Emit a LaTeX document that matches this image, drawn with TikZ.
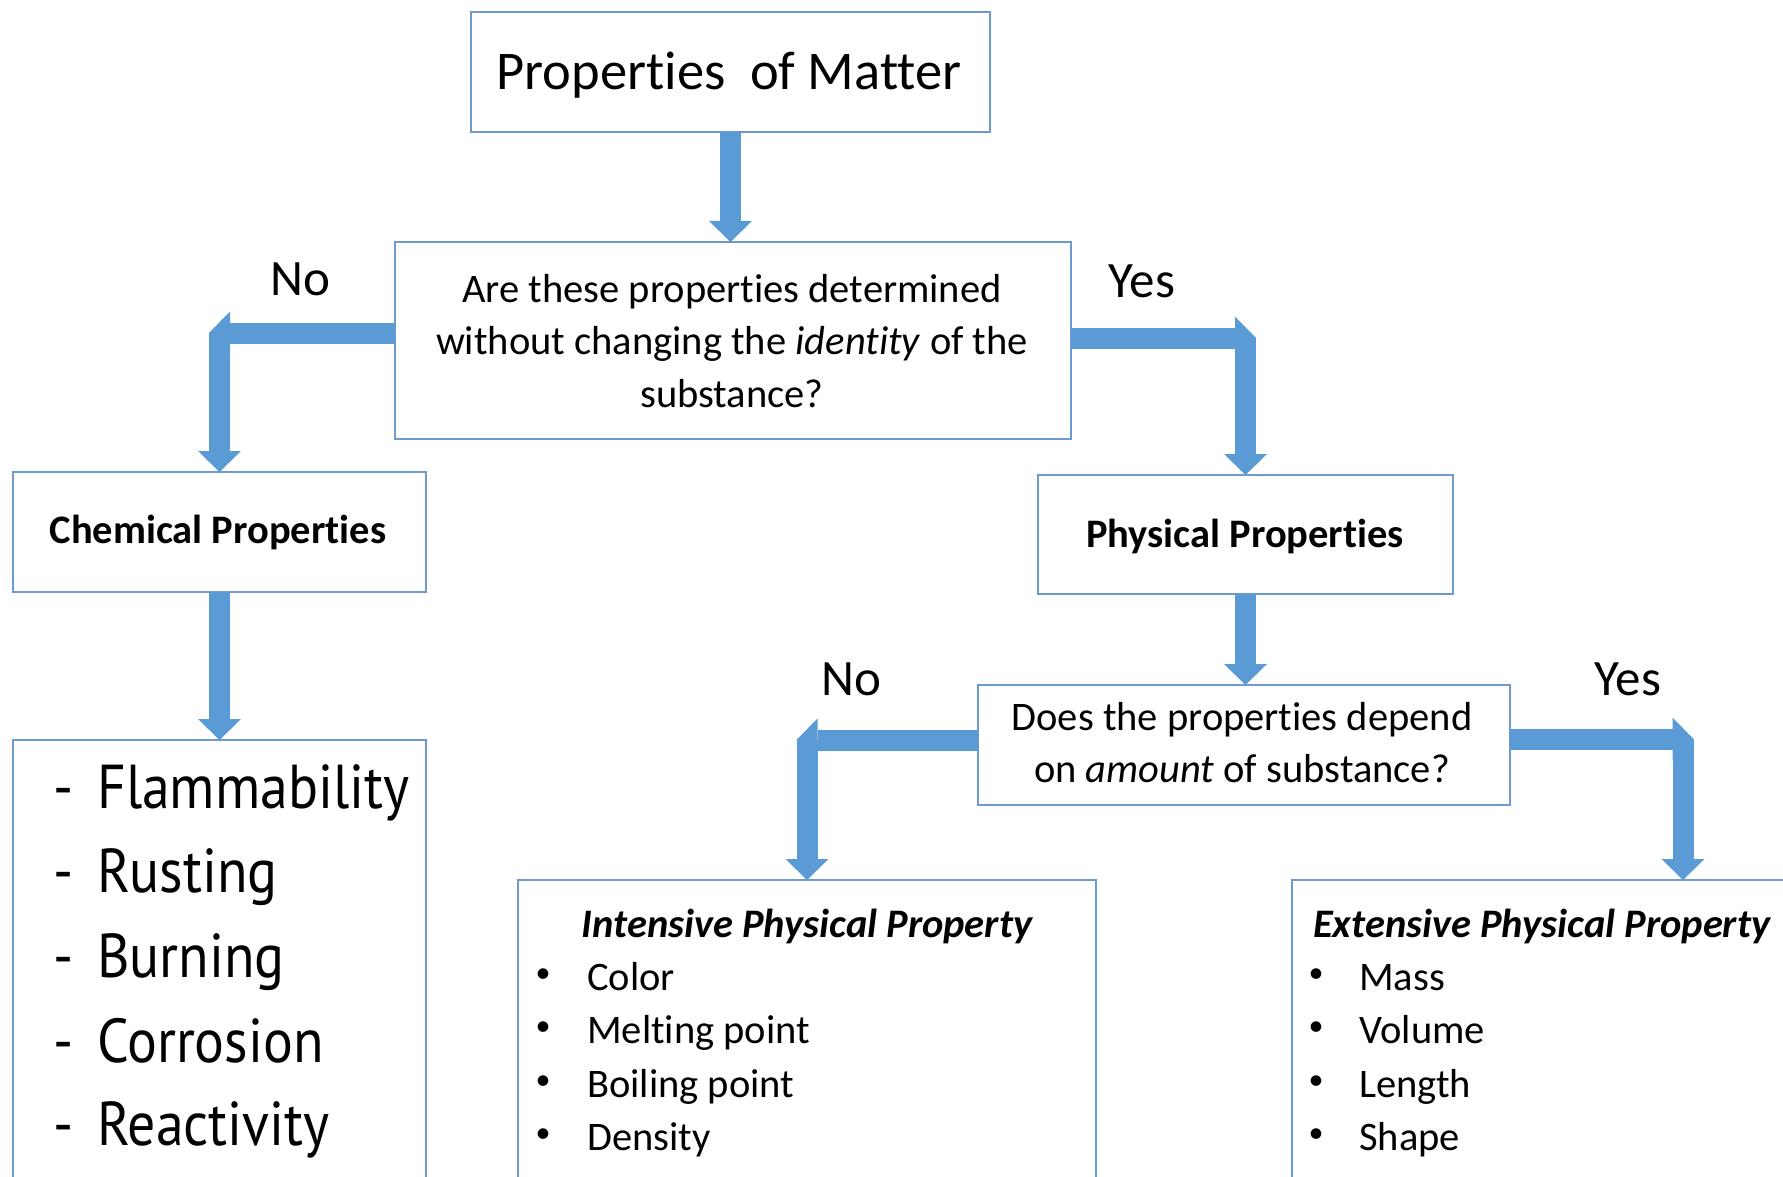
\documentclass[tikz,border=0pt]{standalone}
\usepackage{fontspec}
\setmainfont{Carlito}[Ligatures=NoCommon]
\newfontfamily\listfont[FakeStretch=0.9]{PT Sans}
\usetikzlibrary{arrows.meta}
\definecolor{arrblue}{HTML}{5B9BD5}
\definecolor{boxblue}{HTML}{6F9AD0}
\begin{document}
\begin{tikzpicture}[x=1pt,y=-1pt,
  box/.style={draw=boxblue, line width=2.5pt, fill=white, inner sep=0pt, outer sep=0pt},
  shaft/.style={draw=arrblue, line width=21pt},
  fatarrow/.style={shaft, -{Triangle[length=21pt,width=43pt,line width=0pt]}},
  txt/.style={font=\fontsize{40.5}{48}\selectfont, inner sep=0pt, anchor=base},
  btxt/.style={txt, font=\fontsize{40.5}{48}\selectfont\bfseries},
  bitxt/.style={txt, font=\fontsize{40.5}{48}\selectfont\bfseries\itshape},
  lbl/.style={txt, font=\fontsize{51}{60}\selectfont},
  lst/.style={inner sep=0pt, anchor=base west, font=\listfont\fontsize{62}{70}\selectfont},
  item/.style={txt, anchor=base west},
  bul/.style={inner sep=0pt, anchor=center, font=\fontsize{30}{36}\selectfont}
]
\useasboundingbox (0,0) rectangle (1783,1177);
\fill[white] (0,0) rectangle (1783,1177);

% boxes
\node[box, minimum width=519pt, minimum height=120pt] (top) at (730.5,72) {};
\node[box, minimum width=676pt, minimum height=197pt] (q1) at (733,340.5) {};
\node[box, minimum width=413pt, minimum height=120pt] (chem) at (219.5,532) {};
\node[box, minimum width=415pt, minimum height=119pt] (phys) at (1245.5,534.5) {};
\node[box, minimum width=532pt, minimum height=120pt] (q2) at (1244,745) {};
\node[box, minimum width=413pt, minimum height=500pt] (list) at (219.5,990) {};
\node[box, minimum width=578pt, minimum height=400pt] (int) at (807,1080) {};
\node[box, minimum width=600pt, minimum height=400pt] (ext) at (1592,1080) {};

% connectors
\draw[fatarrow] (top.south) -- (top.south |- q1.north);

\coordinate (nl) at (209,333);
\draw[fatarrow] (chem.north |- nl) -- (chem.north);
\draw[fatarrow] (q1.west |- nl) -- (nl);

\coordinate (nr) at (1256,338);
\draw[fatarrow] (phys.north |- nr) -- (phys.north);
\draw[fatarrow] (q1.east |- nr) -- (nr);

\draw[fatarrow] (chem.south) -- (list.north);
\draw[fatarrow] (phys.south) -- (phys.south |- q2.north);

\coordinate (ml) at (796.5,740);
\draw[fatarrow] (int.north |- ml) -- (int.north);
\draw[fatarrow] (q2.west |- ml) -- (ml);

\coordinate (mrv) at (1683,739);
\coordinate (mr) at (1693.5,739);
\draw[fatarrow] (mrv) -- (mrv |- ext.north);
\draw[fatarrow] (q2.east |- mr) -- (mr);

% texts
\node[txt, font=\fontsize{54.5}{60}\selectfont] (ttop) at (729,90) {Properties\ \ of Matter};
\node[txt] (q1a) at (732,302) {Are these properties determined};
\node[txt] (q1b) at (732,354) {without changing the \textit{identity} of the};
\node[txt] (q1c) at (732,407) {substance?};
\node[btxt] (tchem) at (218,543) {Chemical Properties};
\node[btxt] (tphys) at (1245,547) {Physical Properties};
\node[txt] (q2a) at (1242,730) {Does the properties depend};
\node[txt] (q2b) at (1242,782) {on \textit{amount} of substance?};

\node[lbl] (no1) at (300,295) {No};
\node[lbl] (yes1) at (1142,297) {Yes};
\node[lbl] (no2) at (851,695) {No};
\node[lbl] (yes2) at (1628,695) {Yes};

% chemical list
\node[lst] (l1) at (53,808) {\makebox[44pt][l]{-}Flammability};
\node[lst] (l2) at (53,892) {\makebox[44pt][l]{-}Rusting};
\node[lst] (l3) at (53,977) {\makebox[44pt][l]{-}Burning};
\node[lst] (l4) at (53,1062) {\makebox[44pt][l]{-}Corrosion};
\node[lst] (l5) at (53,1145) {\makebox[44pt][l]{-}Reactivity};

% intensive
\node[bitxt] (tint) at (807,937) {Intensive Physical Property};
\node[bul] (ib1) at (543,976) {•};
\node[bul] (ib2) at (543,1029) {•};
\node[bul] (ib3) at (543,1083) {•};
\node[bul] (ib4) at (543,1136) {•};
\node[item] (i1) at (587,990) {Color};
\node[item] (i2) at (587,1043) {Melting point};
\node[item] (i3) at (587,1097) {Boiling point};
\node[item] (i4) at (587,1150) {Density};

% extensive
\node[bitxt, anchor=base west] (text) at (1313,937) {Extensive Physical Property};
\node[bul] (eb1) at (1316,976) {•};
\node[bul] (eb2) at (1316,1029) {•};
\node[bul] (eb3) at (1316,1083) {•};
\node[bul] (eb4) at (1316,1136) {•};
\node[item] (e1) at (1359,990) {Mass};
\node[item] (e2) at (1359,1043) {Volume};
\node[item] (e3) at (1359,1097) {Length};
\node[item] (e4) at (1359,1150) {Shape};
\end{tikzpicture}
\end{document}
